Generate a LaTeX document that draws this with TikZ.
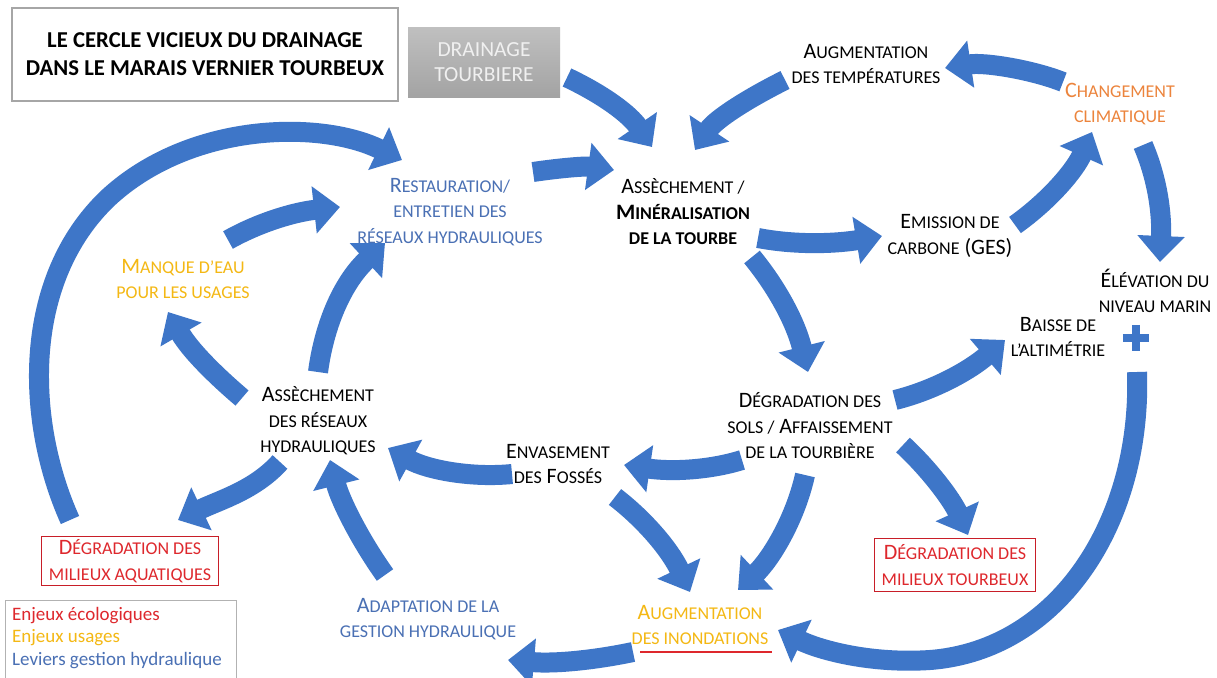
\documentclass[tikz,border=0pt]{standalone}
\usepackage{fontspec}
\setmainfont{Carlito}
\usetikzlibrary{arrows.meta,calc}
\definecolor{arrblue}{RGB}{62,118,200}
\definecolor{txtblue}{RGB}{74,112,180}
\definecolor{corange}{RGB}{236,132,60}
\definecolor{cyellow}{RGB}{244,184,20}
\definecolor{cred}{RGB}{222,40,45}
\definecolor{boxred}{RGB}{200,30,40}
\newcommand\sk[1]{{\fontsize{18}{25.5}\selectfont #1}}
\tikzset{
  lbl/.style={align=center, font=\fontsize{22}{25.5}\selectfont, inner sep=0pt},
  redbox/.style={lbl, text=cred, draw=boxred, line width=1.5pt},
  arr/.style={draw=arrblue, line width=20pt, -{Triangle[length=26pt,width=46pt]}},
}
\begin{document}
\begin{tikzpicture}[x=1pt,y=-1pt]
\useasboundingbox (0,0) rectangle (1217,677);
\fill[white] (0,0) rectangle (1217,677);

% title and drainage box
\node[draw=gray!70, line width=1.2pt, minimum width=386pt, minimum height=93pt, align=center,
      font=\bfseries\fontsize{22.7}{28}\selectfont] (title) at (205,54.5)
      {LE CERCLE VICIEUX DU DRAINAGE\\DANS LE MARAIS VERNIER TOURBEUX};
\node[minimum width=152pt, minimum height=69pt, top color=gray!50, bottom color=gray!72,
      align=center, text=gray!12, font=\fontsize{21.5}{25}\selectfont] (drain) at (484,62.5)
      {DRAINAGE\\TOURBIERE};

% nodes
\node[lbl] (temp) at (866,64) {A\sk{UGMENTATION}\\\sk{DES TEMPÉRATURES}};
\node[lbl, text=corange] (clim) at (1120,104) {C\sk{HANGEMENT}\\\sk{CLIMATIQUE}};
\node[lbl, text=txtblue] (resto) at (450,212) {R\sk{ESTAURATION/}\\\sk{ENTRETIEN DES}\\\sk{RÉSEAUX HYDRAULIQUES}};
\node[lbl] (asm) at (683,212) {A\sk{SSÈCHEMENT /}\\\textbf{M\sk{INÉRALISATION}}\\\textbf{\sk{DE LA TOURBE}}};
\node[lbl] (emis) at (950,236) {E\sk{MISSION DE}\\\sk{CARBONE} (GES)};
\node[lbl] (elev) at (1155,291) {É\sk{LÉVATION DU}\\\sk{NIVEAU MARIN}};
\node[lbl] (baisse) at (1058,337) {B\sk{AISSE DE}\\\sk{L’ALTIMÉTRIE}};
\node[inner sep=0pt, minimum size=26pt] (plus) at (1136,338) {};
\draw[arrblue, line width=8pt] (plus.west) -- (plus.east) (plus.north) -- (plus.south);
\node[lbl, text=cyellow] (manque) at (183,279) {M\sk{ANQUE D’EAU}\\\sk{POUR LES USAGES}};
\node[lbl] (asr) at (318,421) {A\sk{SSÈCHEMENT}\\\sk{DES RÉSEAUX}\\\sk{HYDRAULIQUES}};
\node[lbl] (degsol) at (810,426) {D\sk{ÉGRADATION DES}\\\sk{SOLS /} A\sk{FFAISSEMENT}\\\sk{DE LA TOURBIÈRE}};
\node[lbl] (envas) at (558,464) {E\sk{NVASEMENT}\\\sk{DES} F\sk{OSSÉS}};
\node[redbox, minimum width=177pt, minimum height=49pt] (degaq) at (130,561) {D\sk{ÉGRADATION DES}\\\sk{MILIEUX AQUATIQUES}};
\node[redbox, minimum width=161pt, minimum height=53pt] (degtb) at (955,565) {D\sk{ÉGRADATION DES}\\\sk{MILIEUX TOURBEUX}};
\node[lbl, text=txtblue] (adapt) at (428,619) {A\sk{DAPTATION DE LA}\\\sk{GESTION HYDRAULIQUE}};
\node[lbl, text=cyellow] (inond) at (700,625) {A\sk{UGMENTATION}\\\sk{DES INONDATIONS}};
\draw[cred, line width=1.5pt] ($(inond)+(-60,27)$) -- ($(inond)+(72,27)$);

% legend
\node[draw=gray!60, line width=1.2pt, anchor=north west, minimum width=231pt, minimum height=90pt] (leg) at (5,600) {};
\node[anchor=north west, align=left, inner sep=0pt, font=\fontsize{19}{22.5}\selectfont] (legt) at ($(leg.north west)+(7,7)$)
  {\textcolor{cred}{Enjeux écologiques}\\\textcolor{cyellow}{Enjeux usages}\\\textcolor{txtblue}{Leviers gestion hydraulique}};

% arrows
\draw[arr] ($(drain)+(83,15)$) .. controls +(38,18) and +(-22,-32) .. ($(asm)+(-31,-65)$);
\draw[arr] ($(temp)+(-81,16)$) .. controls +(-40,20) and +(20,-30) .. ($(asm)+(12,-62)$);
\draw[arr] ($(clim)+(-57,-22)$) .. controls +(-30,-12) and +(40,-6) .. ($(temp)+(79,4)$);
\draw[arr] ($(emis)+(65,-11)$) .. controls +(35,-25) and +(-17,38) .. ($(clim)+(-28,28)$);
\draw[arr] ($(clim)+(23,41)$) .. controls +(15,35) and +(2,-47) .. ($(elev)+(5,-29)$);
\draw[arr] ($(asm)+(75,26)$) .. controls +(42,8) and +(-42,7) .. ($(emis)+(-68,0)$);
\draw[arr] ($(resto)+(83,-40)$) .. controls +(27,-4) and +(-29,-4) .. ($(asm)+(-69,-42)$);
\draw[arr] ($(degaq)+(-60,-41)$) .. controls +(-45,-100) and (22,280) .. (108,198)
           .. controls (190,122) and (320,120) .. ($(resto)+(-48,-52)$);
\draw[arr] ($(manque)+(45,-39)$) .. controls +(32,-18) and +(-45,5) .. ($(resto)+(-110,-5)$);
\draw[arr] ($(asr)+(0,-49)$) .. controls +(7,-52) and +(-40,37) .. ($(resto)+(-65,31)$);
\draw[arr] ($(asr)+(-76,-23)$) .. controls +(-27,-23) and +(22,38) .. ($(manque)+(-15,33)$);
\draw[arr] ($(asr)+(-38,41)$) .. controls +(-25,28) and +(42,-20) .. ($(degaq)+(48,-41)$);
\draw[arr] ($(asm)+(69,45)$) .. controls +(23,28) and +(-13,-52) .. ($(degsol)+(-2,-54)$);
\draw[arr] ($(degsol)+(85,-26)$) .. controls +(40,-10) and +(-35,30) .. ($(baisse)+(-53,3)$);
\draw[arr] ($(degsol)+(-68,34)$) .. controls +(-32,10) and +(48,7) .. ($(envas)+(66,1)$);
\draw[arr] ($(envas)+(-46,10)$) .. controls +(-40,4) and +(40,22) .. ($(asr)+(70,27)$);
\draw[arr] ($(envas)+(57,33)$) .. controls +(30,23) and +(-20,-42) .. ($(inond)+(-10,-33)$);
\draw[arr] ($(degsol)+(-5,49)$) .. controls +(-10,45) and +(32,-30) .. ($(inond)+(38,-35)$);
\draw[arr] ($(degsol)+(93,19)$) .. controls +(27,25) and +(-16,-35) .. ($(degtb)+(13,-30)$);
\draw[arr] ($(plus)+(1,34)$) .. controls (1142,520) and (1060,650) .. (930,660)
           .. controls (870,664) and (820,650) .. ($(inond)+(78,5)$);
\draw[arr] ($(inond)+(-67,27)$) .. controls +(-38,8) and +(47,4) .. ($(adapt)+(80,41)$);
\draw[arr] ($(adapt)+(-43,-44)$) .. controls +(-25,-35) and +(10,40) .. ($(asr)+(12,39)$);
\end{tikzpicture}
\end{document}
